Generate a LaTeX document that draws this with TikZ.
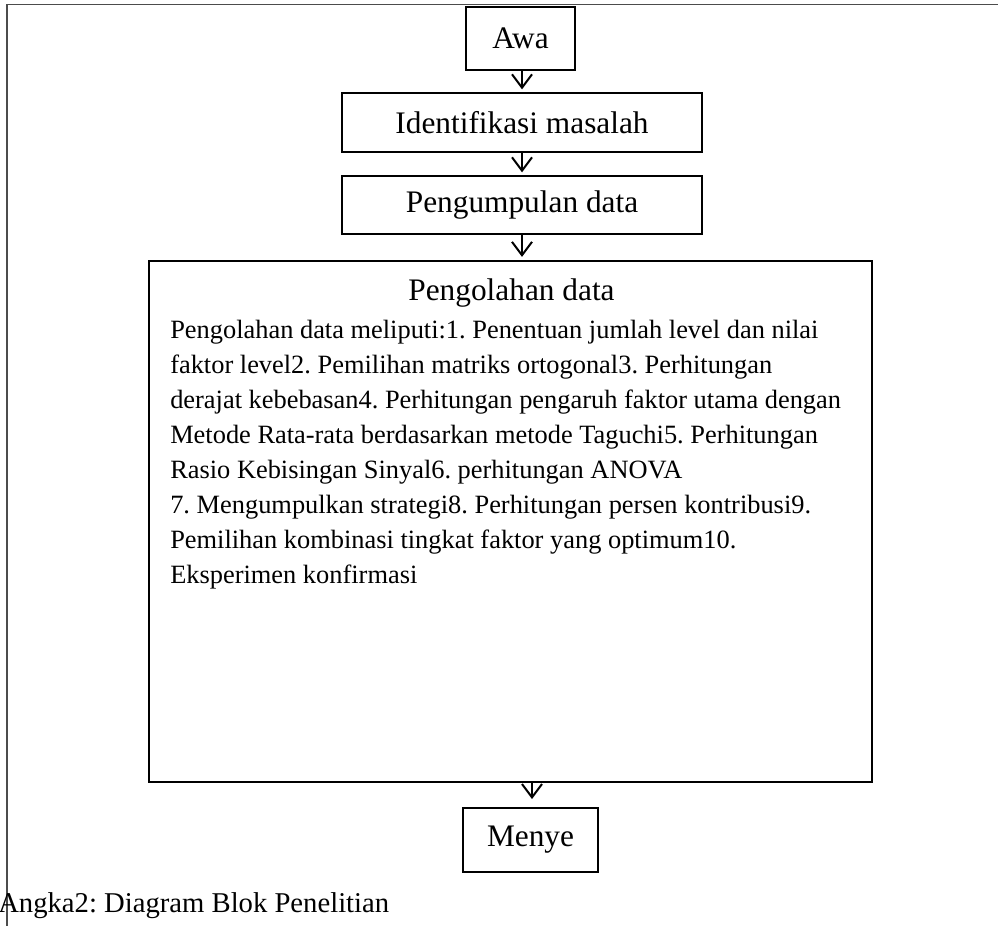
\documentclass[tikz,border=0pt]{standalone}
\usepackage{fontspec}
\setmainfont{Liberation Serif}
\usetikzlibrary{calc, positioning}
\usetikzlibrary{arrows.meta}
\frenchspacing

\tikzset{
  blok/.style={draw, line width=1.5pt, inner sep=0pt, font=\fontsize{23.5}{28}\selectfont},
  panah/.style={-{Straight Barb[length=10pt, width=15pt, line width=1.5pt]}, line width=1.5pt},
  isi/.style={anchor=base west, inner sep=0pt, font=\fontsize{19.8}{26}\selectfont},
}

\begin{document}
\begin{tikzpicture}[x=0.75pt, y=-0.75pt]
\useasboundingbox (0,0) rectangle (998,926);
\draw[line width=1.1pt, black!70] (998,4.5) -- (7,4.5) -- (7,926);

\node[blok, minimum width=81.75pt, minimum height=47.25pt] (awal) at (520.5,38.5) {Awa};
\node[blok, minimum width=270pt, minimum height=44.25pt] (ident) at (522,122.5) {Identifikasi masalah};
\node[blok, minimum width=270pt, minimum height=43.5pt] (kumpul) at (522,205) {Pengumpulan data};
\node[blok, minimum width=542.25pt, minimum height=391.1pt] (olah) at (510.5,521.25) {};
\node[blok, minimum width=101.25pt, minimum height=48pt] (akhir) at (530.5,840) {Menye};

\node[anchor=base, inner sep=0pt, font=\fontsize{23.5}{28}\selectfont] (judul) at (511.5,300) {Pengolahan data};
\foreach \baris [count=\i] in {
  Pengolahan data meliputi:1. Penentuan jumlah level dan nilai,
  faktor level2. Pemilihan matriks ortogonal3. Perhitungan,
  derajat kebebasan4. Perhitungan pengaruh faktor utama dengan,
  Metode Rata-rata berdasarkan metode Taguchi5. Perhitungan,
  Rasio Kebisingan Sinyal6. perhitungan ANOVA,
  7. Mengumpulkan strategi8. Perhitungan persen kontribusi9.,
  Pemilihan kombinasi tingkat faktor yang optimum10.,
  Eksperimen konfirmasi} {
  \node[isi] (baris\i) at ({170},{338+35*(\i-1)}) {\baris};
}

\coordinate (ax) at (522,0);
\coordinate (bx) at (532,0);
\draw[panah, shorten >=2pt] (awal.south -| ax) -- (ident.north -| ax);
\draw[panah, shorten >=2pt] (ident.south -| ax) -- (kumpul.north -| ax);
\draw[panah, shorten >=2pt] (kumpul.south -| ax) -- (olah.north -| ax);
\draw[panah, shorten >=6pt] (olah.south -| bx) -- (akhir.north -| bx);

\node[anchor=base west, inner sep=0pt, font=\fontsize{21.5}{25}\selectfont] (keterangan) at (-2,912) {Angka2: Diagram Blok Penelitian};
\end{tikzpicture}
\end{document}
